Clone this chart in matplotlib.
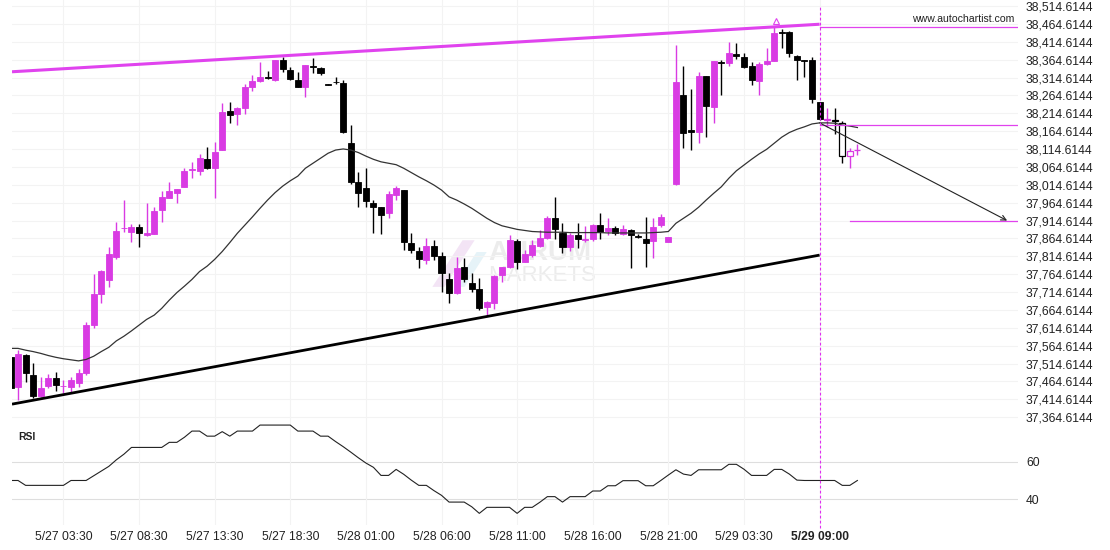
import matplotlib
matplotlib.use('Agg')
import matplotlib.pyplot as plt
from matplotlib.patches import Polygon
import numpy as np

plt.rcParams['font.family'] = ['Liberation Sans', 'DejaVu Sans']

MAGENTA = '#d93be3'
LINE_MAGENTA = '#e043ee'
TEXT = '#222222'

# 30-minute bars, bar index 0 = 5/27 03:30, signal bar = 5/29 09:00 (index 100)
FIRST_BAR = -7
SIGNAL_BAR = 100

OPEN = [37532, 37450, 37538, 37482, 37424, 37453, 37473, 37451, 37450, 37461,
        37489, 37622, 37709, 37748, 37814, 37893, 37884, 37897, 37874, 37877,
        37944, 37979, 37993, 38009, 38056, 38054, 38087, 38063, 38112, 38221,
        38213, 38231, 38287, 38305, 38316, 38308, 38364, 38336, 38308, 38289,
        38346, 38342, 38296, 38303, 38299, 38131, 38022, 38005, 37963, 37952,
        37935, 37986, 38000, 37851, 37830, 37804, 37843, 37815, 37752, 37713,
        37786, 37741, 37722, 37674, 37685, 37762, 37784, 37858, 37800, 37818,
        37843, 37867, 37921, 37881, 37842, 37874, 37860, 37863, 37902, 37886,
        37893, 37876, 37888, 37872, 37862, 37858, 37902, 37856, 38017, 38266,
        38168, 38163, 38319, 38233, 38359, 38355, 38381, 38371, 38347, 38306,
        38352, 38361, 38441, 38442, 38375, 38364, 38364, 38246, 38196, 38196,
        38189, 38095, 38111]
HIGH = [37535, 37552, 37540, 37515, 37476, 37485, 37490, 37468, 37478, 37498,
        37632, 37765, 37775, 37840, 37912, 37972, 37905, 37905, 37965, 37952,
        37996, 38023, 38004, 38061, 38079, 38100, 38121, 38134, 38243, 38245,
        38232, 38296, 38322, 38359, 38333, 38365, 38373, 38345, 38329, 38351,
        38369, 38345, 38297, 38315, 38308, 38182, 38051, 38061, 37972, 37953,
        37996, 38011, 38001, 37879, 37842, 37865, 37860, 37828, 37769, 37814,
        37809, 37769, 37753, 37689, 37761, 37786, 37874, 37862, 37832, 37860,
        37888, 37927, 37980, 37909, 37879, 37909, 37899, 37905, 37935, 37921,
        37899, 37902, 37890, 37878, 37924, 37921, 37933, 37869, 38406, 38347,
        38282, 38329, 38320, 38362, 38364, 38415, 38412, 38384, 38359, 38359,
        38397, 38455, 38450, 38446, 38377, 38365, 38371, 38247, 38229, 38229,
        38194, 38117, 38129]
LOW = [37440, 37412, 37462, 37417, 37422, 37445, 37438, 37433, 37436, 37450,
       37482, 37613, 37683, 37728, 37806, 37882, 37856, 37842, 37872, 37876,
       37912, 37978, 37963, 38008, 38033, 38042, 38058, 37977, 38111, 38187,
       38181, 38212, 38277, 38303, 38310, 38306, 38331, 38308, 38288, 38261,
       38327, 38322, 38294, 38297, 38159, 38017, 37952, 37952, 37880, 37876,
       37921, 37972, 37832, 37823, 37781, 37793, 37804, 37716, 37685, 37710,
       37744, 37716, 37664, 37650, 37666, 37744, 37782, 37778, 37798, 37814,
       37842, 37862, 37862, 37823, 37830, 37837, 37856, 37858, 37862, 37874,
       37874, 37874, 37781, 37866, 37786, 37809, 37896, 37854, 38014, 38117,
       38112, 38131, 38149, 38189, 38266, 38347, 38366, 38341, 38294, 38266,
       38350, 38360, 38397, 38371, 38308, 38317, 38243, 38196, 38176, 38156,
       38077, 38061, 38098]
CLOSE = [37447, 37541, 37489, 37424, 37447, 37473, 37454, 37452, 37468, 37489,
         37622, 37709, 37773, 37821, 37885, 37895, 37897, 37879, 37879, 37941,
         37981, 37996, 38003, 38053, 38058, 38091, 38063, 38106, 38218, 38210,
         38231, 38287, 38306, 38317, 38313, 38364, 38338, 38312, 38289, 38350,
         38344, 38327, 38295, 38302, 38163, 38023, 37993, 37968, 37952, 37930,
         37988, 38005, 37854, 37832, 37808, 37843, 37815, 37769, 37713, 37783,
         37751, 37722, 37669, 37688, 37759, 37784, 37860, 37800, 37821, 37846,
         37867, 37923, 37890, 37842, 37874, 37862, 37864, 37902, 37884, 37894,
         37879, 37890, 37874, 37870, 37851, 37896, 37924, 37868, 38303, 38159,
         38163, 38319, 38235, 38361, 38356, 38383, 38375, 38345, 38308, 38353,
         38361, 38440, 38440, 38383, 38364, 38362, 38254, 38198, 38199, 38192,
         38095, 38109, 38113]
MA = [37557, 37557, 37552, 37548, 37543, 37537, 37532, 37528, 37525, 37522,
      37526, 37535, 37548, 37560, 37578, 37591, 37606, 37622, 37638, 37650,
      37669, 37692, 37713, 37731, 37750, 37772, 37787, 37806, 37828, 37853,
      37879, 37902, 37925, 37949, 37972, 37993, 38011, 38026, 38039, 38061,
      38075, 38089, 38103, 38112, 38115, 38112, 38105, 38095, 38086, 38079,
      38075, 38071, 38061, 38049, 38037, 38026, 38014, 38000, 37981, 37972,
      37961, 37949, 37935, 37921, 37909, 37900, 37895, 37890, 37887, 37884,
      37883, 37882, 37882, 37882, 37881, 37881, 37881, 37881, 37881, 37880,
      37880, 37880, 37880, 37880, 37880, 37881, 37882, 37884, 37907, 37921,
      37935, 37952, 37972, 37991, 38009, 38033, 38054, 38070, 38086, 38101,
      38114, 38131, 38148, 38161, 38170, 38177, 38185, 38188, 38188, 38187,
      38182, 38179, 38175]
RSI = [50, 50, 47.4, 47.4, 47.4, 47.4, 47.4, 47.4, 50, 50,
       50, 52.5, 55, 57.5, 61, 64, 67.6, 67.6, 67.6, 67.6,
       67.6, 70.3, 70.3, 73, 76.3, 76.3, 73.6, 73.6, 76, 73.6,
       76.3, 76.3, 76.3, 79.5, 79.5, 79.5, 79.5, 79.5, 76.3, 76.3,
       76.3, 73.6, 73.6, 70.7, 68, 65.1, 62.1, 59.3, 57, 52.7,
       52.7, 55.9, 53.3, 50.2, 47.4, 47.4, 44.6, 42.1, 38.5, 38.5,
       38.5, 36, 32.5, 35.7, 35.7, 35.7, 35.7, 32.5, 35.7, 35.7,
       38.4, 41.4, 41.4, 38.5, 41.4, 41.4, 41.4, 44.4, 44.4, 47.2,
       47.2, 49.9, 49.9, 49.9, 47.2, 47.2, 50, 52.9, 55.7, 53.4,
       52.7, 55.7, 55.7, 55.7, 55.7, 58.6, 58.6, 56, 52.7, 52.7,
       52.7, 55.9, 55.9, 53.4, 50.2, 50, 50, 50, 50, 50,
       47.4, 47.4, 50]

TIME_LABELS = ['5/27 03:30', '5/27 08:30', '5/27 13:30', '5/27 18:30', '5/28 01:00',
               '5/28 06:00', '5/28 11:00', '5/28 16:00', '5/28 21:00', '5/29 03:30',
               '5/29 09:00']
TIME_TICKS = [0, 10, 20, 30, 40, 50, 60, 70, 80, 90, 100]

PRICE_TICKS = [37364.6144 + 50 * i for i in range(24)]

# pattern lines (bar index, price)
UPPER_LINE = ([-6.8, 100], [38331, 38464])
LOWER_LINE = ([-6.8, 100], [37401, 37818])
FORECAST = ([100, 124.8], [38188, 37914.6])
TARGET_LEVEL = 37914.6144
ENTRY_LEVEL = 38181
TOP_LEVEL = 38457
PEAK_MARK = (94.3, 38474)

XLIM = (-6.8, 126.2)
PRICE_LIM = (37356.6, 38531.8)
RSI_LIM = (26.3, 82.2)

W, H = 1110, 550
fig = plt.figure(figsize=(W / 100, H / 100), dpi=100)
ax = fig.add_axes([12 / W, 1 - 420 / H, 1005.7 / W, 420 / H])
ax_r = fig.add_axes([12 / W, 25 / H, 1005.7 / W, 105 / H])

x = np.arange(FIRST_BAR, FIRST_BAR + len(OPEN))
o, h, l, c = (np.array(v, dtype=float) for v in (OPEN, HIGH, LOW, CLOSE))
up = c >= o
colors = np.where(up, MAGENTA, 'black')

# watermark
ax.text(0.525, 0.398, 'AURUM', transform=ax.transAxes, ha='center', va='center',
        fontsize=20, fontweight='bold', color='#ececec', zorder=0)
ax.text(0.527, 0.343, 'MARKETS', transform=ax.transAxes, ha='center', va='center',
        fontsize=16, color='#ececec', zorder=0)
ax.add_patch(Polygon([[0.418, 0.317], [0.448, 0.428], [0.460, 0.428], [0.430, 0.317]],
                     closed=True, transform=ax.transAxes, facecolor='#f3e4f5',
                     edgecolor='none', zorder=0))
ax.add_patch(Polygon([[0.440, 0.317], [0.462, 0.400], [0.472, 0.400], [0.450, 0.317]],
                     closed=True, transform=ax.transAxes, facecolor='#e6f3f8',
                     edgecolor='none', zorder=0))

# candles
ax.vlines(x, l, h, colors=colors, lw=1.0, zorder=3)
for xi, oi, ci, col in zip(x, o, c, colors):
    lo = min(oi, ci)
    ht = max(abs(ci - oi), 1.0)
    hollow = xi > SIGNAL_BAR
    ax.bar(xi, ht, bottom=lo, width=0.8, color='white' if hollow else col,
           edgecolor=col, linewidth=0.9 if hollow else 0.6, zorder=4)

ax.plot(x, MA, color='#333333', lw=0.9, zorder=5)

# pattern
ax.plot(*UPPER_LINE, color=LINE_MAGENTA, lw=2.2, zorder=6, solid_capstyle='butt')
ax.plot(*LOWER_LINE, color='black', lw=2.0, zorder=6, solid_capstyle='butt')
ax.plot([SIGNAL_BAR, XLIM[1]], [TOP_LEVEL, TOP_LEVEL], color=LINE_MAGENTA, lw=0.9, zorder=6)
ax.plot([SIGNAL_BAR, XLIM[1]], [ENTRY_LEVEL, ENTRY_LEVEL], color=LINE_MAGENTA, lw=0.9, zorder=6)
ax.plot([104, XLIM[1]], [TARGET_LEVEL, TARGET_LEVEL], color=LINE_MAGENTA, lw=0.9, zorder=6)
ax.annotate('', xy=(FORECAST[0][1], FORECAST[1][1]), xytext=(FORECAST[0][0], FORECAST[1][0]),
            arrowprops=dict(arrowstyle='->', color='#222222', lw=0.8, mutation_scale=9,
                            shrinkA=0, shrinkB=0), zorder=7)
ax.plot(*PEAK_MARK, marker='^', ms=5, mfc='white', mec=LINE_MAGENTA, mew=0.8, zorder=7)
ax.axvline(SIGNAL_BAR, ymin=0, ymax=0.983, color='#e02ef0', lw=0.8,
           ls=(0, (2.5, 2)), zorder=7, clip_on=False)

ax.text(0.997, 0.955, 'www.autochartist.com', transform=ax.transAxes, ha='right',
        va='center', fontsize=7.6, color=TEXT)

ax.set_xlim(*XLIM)
ax.set_ylim(*PRICE_LIM)
ax.set_xticks(TIME_TICKS)
ax.set_xticklabels([])
ax.set_yticks(PRICE_TICKS)
ax.set_yticklabels([f'{p:,.4f}' for p in PRICE_TICKS])
ax.yaxis.tick_right()
ax.tick_params(axis='y', length=0, pad=6, labelsize=8.7, labelcolor=TEXT)
ax.tick_params(axis='x', length=0)
ax.grid(True, color='#f3f3f3', lw=0.8, zorder=0)
for s in ax.spines.values():
    s.set_visible(False)

# RSI panel
ax_r.plot(x, RSI, color='#222222', lw=0.8, zorder=3)
for lvl in (40, 60):
    ax_r.axhline(lvl, color='#dedede', lw=0.8, zorder=1)
ax_r.axvline(SIGNAL_BAR, ymin=-0.03, ymax=1.0, color='#e02ef0', lw=0.8,
             ls=(0, (2.5, 2)), zorder=7, clip_on=False)
ax_r.text(0.006, 0.838, 'RSI', transform=ax_r.transAxes, ha='left', va='center',
          fontsize=7.5, fontweight='bold', color=TEXT)
ax_r.set_xlim(*XLIM)
ax_r.set_ylim(*RSI_LIM)
ax_r.set_xticks(TIME_TICKS)
ax_r.set_xticklabels(TIME_LABELS)
ax_r.get_xticklabels()[-1].set_fontweight('bold')
ax_r.set_yticks([40, 60])
ax_r.set_yticklabels(['40', '60'])
ax_r.yaxis.tick_right()
ax_r.tick_params(axis='y', length=0, pad=6, labelsize=8.7, labelcolor=TEXT)
ax_r.tick_params(axis='x', length=0, pad=4, labelsize=8.7, labelcolor=TEXT)
ax_r.grid(True, axis='x', color='#f3f3f3', lw=0.8, zorder=0)
for s in ax_r.spines.values():
    s.set_visible(False)

fig.savefig('out.png', dpi=100, facecolor='white')
